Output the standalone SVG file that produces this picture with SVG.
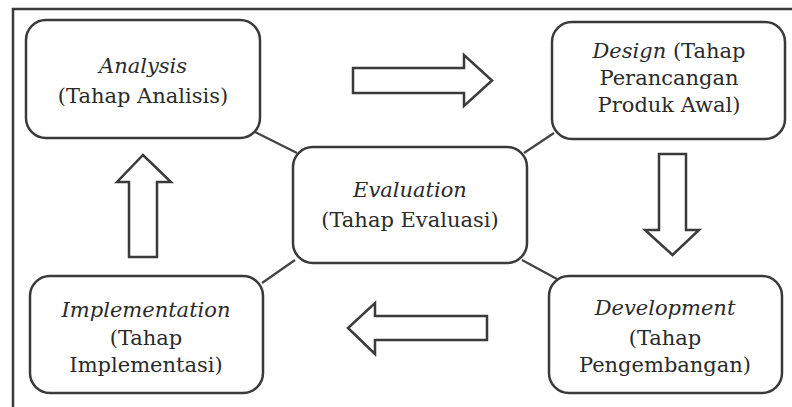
<svg xmlns="http://www.w3.org/2000/svg" width="792" height="407" viewBox="0 0 792 407">
<style>
.box{fill:#fff;stroke:#3a3a3a;stroke-width:2.5}
.arr{fill:#fff;stroke:#3a3a3a;stroke-width:2.5;stroke-linejoin:miter}
.con{stroke:#444;stroke-width:2.2;fill:none}
.t{font-family:'DejaVu Serif',serif;font-size:21px;fill:#2a2a2a;text-anchor:middle}
.it{font-style:italic}
</style>
<rect width="792" height="407" fill="#fff"/>
<path d="M13,407 V9 H792" fill="none" stroke="#3a3a3a" stroke-width="2.5"/>
<g id="connectors">
<line class="con" x1="255" y1="132" x2="297" y2="153"/>
<line class="con" x1="554" y1="133" x2="524" y2="153"/>
<line class="con" x1="295" y1="260" x2="262" y2="283"/>
<line class="con" x1="522" y1="260" x2="557" y2="279"/>
<path id="arrow-right" class="arr" d="M353,68 H464 V55 L492,80.5 L464,106 V93 H353 Z"/>
<path id="arrow-down" class="arr" d="M659,154 H686 V230 H699 L672.5,255 L645,230 H659 Z"/>
<path id="arrow-left" class="arr" d="M487,316 H375 V303 L348,328 L375,354 V340 H487 Z"/>
<path id="arrow-up" class="arr" d="M129,257 V182 H117 L143,155 L171,182 H157 V257 Z"/>
</g>
<g id="analysis">
<rect class="box" x="26" y="20" width="234" height="118" rx="20"/>
<text x="143" y="73" class="t it">Analysis</text>
<text x="143" y="103" class="t">(Tahap Analisis)</text>
</g>
<g id="design">
<rect class="box" x="552" y="22" width="233" height="117" rx="20"/>
<text x="669" y="58" class="t"><tspan class="it">Design</tspan> (Tahap</text>
<text x="669" y="85" class="t">Perancangan</text>
<text x="669" y="112" class="t">Produk Awal)</text>
</g>
<g id="evaluation">
<rect class="box" x="293" y="147" width="234" height="116" rx="20"/>
<text x="410" y="197" class="t it">Evaluation</text>
<text x="410" y="227" class="t">(Tahap Evaluasi)</text>
</g>
<g id="implementation">
<rect class="box" x="30" y="276" width="233" height="117" rx="20"/>
<text x="146" y="317" class="t it">Implementation</text>
<text x="146" y="345" class="t">(Tahap</text>
<text x="146" y="372" class="t">Implementasi)</text>
</g>
<g id="development">
<rect class="box" x="549" y="276" width="233" height="117" rx="20"/>
<text x="665" y="315" class="t it">Development</text>
<text x="665" y="345" class="t">(Tahap</text>
<text x="665" y="372" class="t">Pengembangan)</text>
</g>
</svg>
